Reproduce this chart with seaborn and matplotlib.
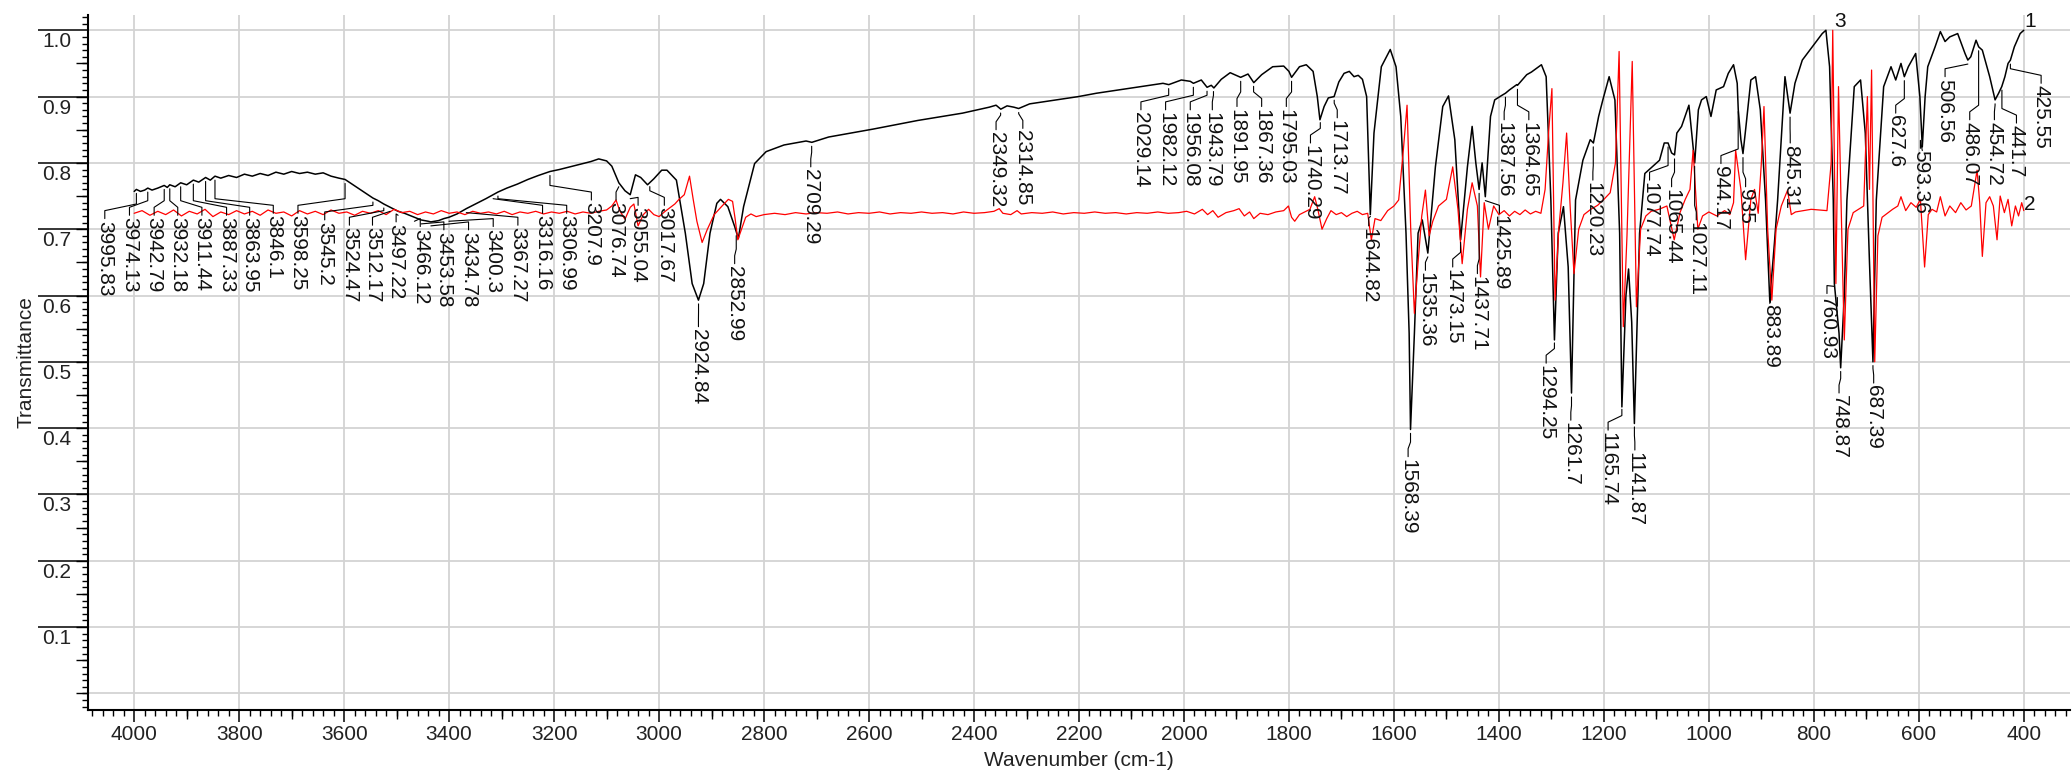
import numpy as np
import pandas as pd
import matplotlib
matplotlib.use("Agg")
import matplotlib.pyplot as plt
import matplotlib.transforms as mtransforms
from matplotlib.ticker import MultipleLocator
import seaborn as sns

# ----------------------------------------
# Spectrum 1 (black)
# ----------------------------------------
black_wn = [4000, 3995.8, 3988, 3980, 3974.1, 3966, 3955, 3942.8, 3937, 3932.2, 3922, 3911.4, 3900,
            3887.3, 3877, 3863.9, 3855, 3846.1, 3835, 3820, 3805, 3790, 3775, 3760, 3745, 3730, 3715,
            3700, 3685, 3670, 3655, 3640, 3625, 3610, 3598.2, 3585, 3570, 3555, 3545.2, 3535, 3524.5,
            3512.2, 3497.2, 3485, 3466.1, 3453.6, 3440, 3434.8, 3420, 3410, 3400.3, 3385, 3367.3, 3350,
            3330, 3316.2, 3307, 3290, 3270, 3250, 3230, 3207.9, 3190, 3170, 3150, 3130, 3115, 3100, 3090,
            3076.7, 3065, 3055, 3045, 3035, 3022, 3010, 2995, 2985, 2967, 2950, 2937, 2925, 2915, 2903,
            2890, 2883, 2869, 2856, 2849, 2839, 2818, 2796, 2762, 2720, 2709, 2677, 2592, 2507, 2422,
            2371, 2358, 2349, 2337, 2324, 2315, 2294, 2252, 2201, 2167, 2082, 2040, 2029, 2005, 1988,
            1982, 1967, 1956, 1948, 1943, 1929, 1912, 1892, 1878, 1867, 1852, 1831, 1810, 1800, 1795,
            1780, 1767, 1754, 1746, 1741, 1733, 1725, 1714, 1705, 1695, 1685, 1676, 1668, 1660, 1652,
            1645, 1638, 1624, 1607, 1596, 1587, 1577, 1571, 1568.4, 1561, 1554, 1546, 1535.4, 1521,
            1507, 1496, 1484, 1473, 1460, 1451, 1444, 1437.7, 1432, 1425.9, 1416, 1408, 1394, 1387.6,
            1380, 1366, 1364.6, 1347, 1338, 1319, 1310, 1301, 1294.2, 1287, 1277, 1268, 1261.7, 1254,
            1240, 1226, 1220, 1210, 1202, 1190, 1179, 1170, 1165.7, 1158, 1153, 1147, 1141.9, 1132,
            1122, 1108, 1094, 1085, 1077.7, 1071, 1065.4, 1061, 1052, 1038, 1027, 1020, 1014, 1005,
            996, 986, 972, 963, 953, 946, 944, 939, 935, 930, 920, 911, 902, 892, 884, 875, 869, 855,
            845.3, 836, 822, 803, 784, 777, 770, 763, 760.9, 752, 748.9, 742, 737, 723, 711, 702, 694,
            687.4, 681, 667, 653, 644, 634, 627.6, 620, 606, 598, 593.4, 588, 583, 569, 559, 550, 541,
            526, 512, 506.6, 501, 491, 486, 479, 465, 454.7, 448, 442, 436, 430, 425.5, 418, 407, 400]
black_tr = [.757, .760, .757, .759, .762, .759, .762, .766, .763, .767, .764, .770, .767,
            .774, .771, .778, .774, .780, .777, .781, .778, .783, .780, .784, .781, .786, .783,
            .787, .784, .786, .783, .785, .780, .777, .775, .768, .760, .752, .747, .743, .738,
            .733, .727, .724, .718, .714, .712, .711, .713, .716, .718, .723, .731, .738,
            .746, .752, .756, .762, .768, .775, .781, .787, .790, .794, .798, .802, .806, .803, .795,
            .770, .758, .752, .782, .778, .767, .776, .789, .789, .774, .694, .618, .593, .618, .694,
            .739, .745, .734, .704, .686, .734, .799, .817, .827, .833, .831, .839, .851, .864, .875,
            .884, .887, .881, .886, .884, .882, .889, .894, .900, .905, .915, .920, .918, .925, .923,
            .920, .925, .914, .917, .913, .926, .936, .929, .934, .921, .933, .945, .946, .938, .929,
            .945, .948, .938, .900, .865, .885, .898, .900, .922, .935, .938, .930, .932, .926, .900,
            .722, .845, .945, .971, .945, .870, .694, .543, .398, .543, .694, .714, .664, .794,
            .885, .901, .835, .684, .794, .855, .800, .760, .800, .749, .870, .895, .902, .905,
            .910, .918, .917, .933, .937, .948, .930, .744, .533, .694, .734, .643, .453, .744,
            .804, .835, .830, .870, .895, .930, .895, .694, .432, .600, .640, .560, .407, .694,
            .784, .794, .804, .830, .830, .815, .812, .845, .855, .887, .800, .880, .895, .900,
            .870, .910, .915, .935, .948, .920, .880, .835, .814, .850, .925, .930, .880, .744, .593, .680, .744, .930,
            .875, .920, .955, .975, .995, 1.000, .945, .744, .618, .543, .491, .600, .744, .915, .925, .845, .650,
            .500, .744, .915, .945, .925, .950, .930, .945, .965, .900, .824, .900, .945, .975, .998, .983, .990,
            .995, .965, .955, .960, .985, .975, .970, .930, .895, .905, .915, .930, .950, .955, .975, .995, 1.000]

# ----------------------------------------
# Spectrum 2 (red)
# ----------------------------------------
red_wn = [4000, 3985, 3970, 3955, 3940, 3925, 3910, 3895, 3880, 3865, 3850, 3835, 3820, 3805, 3790,
          3775, 3760, 3745, 3730, 3715, 3700, 3685, 3670, 3655, 3640, 3625, 3610, 3595, 3580, 3565,
          3550, 3535, 3520, 3505, 3490, 3475, 3460, 3445, 3430, 3415, 3400, 3385, 3370, 3355, 3340,
          3325, 3310, 3295, 3280, 3265, 3250, 3235, 3220, 3205, 3190, 3175, 3160, 3145, 3130, 3115,
          3100, 3090, 3082, 3075, 3065, 3055, 3048, 3040, 3030, 3020, 3010, 3000, 2990, 2980, 2970,
          2962, 2952, 2942, 2935, 2928, 2918, 2908, 2895, 2880, 2868, 2860, 2855, 2850, 2843, 2835,
          2825, 2815, 2800, 2780, 2760, 2740, 2720, 2700, 2680, 2660, 2640, 2620, 2600, 2580, 2560,
          2540, 2520, 2500, 2480, 2460, 2440, 2420, 2400, 2380, 2362, 2352, 2345, 2330, 2318, 2310,
          2290, 2270, 2250, 2230, 2210, 2190, 2170, 2150, 2130, 2110, 2090, 2070, 2050, 2030, 2010,
          1995, 1980, 1965, 1955, 1945, 1935, 1920, 1905, 1895, 1885, 1875, 1867, 1855, 1840, 1825,
          1810, 1801, 1795, 1789, 1780, 1770, 1760, 1751, 1745, 1737, 1728, 1720, 1710, 1700, 1690,
          1680, 1670, 1660, 1650, 1643, 1636, 1625, 1612, 1600, 1591, 1582, 1575, 1568, 1561, 1554,
          1547, 1540, 1533, 1526, 1515, 1500, 1488, 1478, 1470, 1460, 1451, 1441, 1435, 1428, 1420,
          1410, 1400, 1390, 1380, 1370, 1360, 1350, 1340, 1330, 1320, 1312, 1305, 1299, 1293, 1286,
          1278, 1271, 1264, 1257, 1248, 1238, 1225, 1212, 1200, 1188, 1178, 1171, 1163, 1156, 1150,
          1146, 1138, 1130, 1120, 1110, 1095, 1080, 1066, 1055, 1045, 1036, 1030, 1021, 1012, 1000,
          985, 970, 960, 953, 949, 939, 930, 920, 913, 906, 900, 895, 888, 880, 872, 862, 850, 843,
          835, 820, 805, 790, 775, 767, 764, 758, 753, 747, 742, 735, 725, 715, 705, 698, 694, 690,
          684, 678, 670, 660, 650, 640, 634, 625, 615, 605, 597, 589, 582, 575, 566, 559, 550, 541,
          530, 520, 510, 500, 489, 484, 479, 472, 465, 458, 451, 445, 437, 430, 423, 416, 410, 404, 400]
red_tr = [.724, .728, .721, .727, .722, .729, .720, .727, .723, .730, .719, .726, .722, .728, .723,
          .727, .721, .729, .724, .726, .720, .728, .723, .727, .722, .729, .724, .726, .721, .727,
          .724, .728, .722, .730, .725, .727, .722, .726, .723, .728, .724, .726, .722, .727, .724,
          .726, .723, .727, .722, .726, .724, .727, .723, .726, .724, .727, .723, .726, .724, .727,
          .729, .735, .744, .728, .715, .733, .738, .705, .722, .730, .722, .719, .726, .732, .738,
          .745, .752, .780, .745, .712, .680, .700, .722, .735, .745, .742, .715, .684, .700, .718,
          .723, .719, .722, .724, .722, .725, .723, .725, .724, .726, .723, .725, .724, .726, .723,
          .725, .724, .726, .724, .725, .723, .726, .724, .725, .727, .731, .724, .722, .728, .723,
          .725, .724, .726, .723, .725, .724, .726, .724, .725, .723, .725, .724, .726, .724, .725,
          .727, .723, .730, .722, .728, .718, .725, .728, .731, .720, .726, .716, .724, .722, .726,
          .728, .735, .718, .712, .722, .726, .730, .749, .730, .700, .716, .728, .722, .725, .719,
          .724, .727, .722, .724, .684, .716, .713, .728, .735, .744, .820, .887, .700, .573, .650,
          .720, .759, .690, .712, .735, .745, .794, .730, .648, .730, .770, .735, .628, .740, .700,
          .735, .722, .728, .720, .727, .722, .729, .723, .727, .724, .760, .850, .912, .593, .700,
          .770, .845, .730, .633, .700, .722, .730, .736, .745, .755, .800, .968, .553, .690, .850,
          .953, .583, .700, .720, .727, .730, .735, .684, .725, .745, .760, .819, .700, .720, .726,
          .720, .728, .722, .740, .819, .760, .654, .745, .760, .724, .800, .885, .700, .593, .700, .735, .759, .722,
          .726, .728, .730, .729, .728, .800, 1.000, .618, .915, .700, .533, .700, .725, .730, .735, .900, .760, .940,
          .500, .690, .718, .724, .730, .735, .749, .728, .740, .733, .745, .643, .722, .730, .726, .749, .720, .735,
          .725, .740, .729, .735, .789, .740, .659, .740, .749, .735, .684, .750, .725, .745, .705, .735, .720, .740, .728]

# ----------------------------------------
# Peak labels: text, label column (cm-1), top of the label (transmittance)
# ----------------------------------------
peak_text = ["3995.83", "3974.13", "3942.79", "3932.18", "3911.44", "3887.33", "3863.95", "3846.1",
             "3598.25", "3545.2", "3524.47", "3512.17", "3497.22", "3466.12", "3453.58", "3434.78",
             "3400.3", "3367.27", "3316.16", "3306.99", "3207.9", "3076.74", "3055.04", "3017.67",
             "2924.84", "2852.99", "2709.29", "2349.32", "2314.85", "2029.14", "1982.12", "1956.08",
             "1943.79", "1891.95", "1867.36", "1795.03", "1740.29", "1713.77", "1644.82", "1568.39",
             "1535.36", "1473.15", "1437.71", "1425.89", "1387.56", "1364.65", "1294.25", "1261.7",
             "1220.23", "1165.74", "1141.87", "1077.74", "1065.44", "1027.11", "944.17", "935",
             "883.89", "845.31", "760.93", "748.87", "687.39", "627.6", "593.36", "506.56", "486.07",
             "454.72", "441.7", "425.55"]
label_x = [4056, 4009, 3962, 3917, 3871, 3824, 3780, 3735,
           3688, 3637, 3590, 3546, 3501, 3455, 3410, 3363,
           3316, 3269, 3222, 3176, 3129, 3082, 3040, 2990,
           2925, 2856, 2711, 2358, 2307, 2082, 2035, 1988,
           1946, 1899, 1852, 1805, 1759, 1708, 1648, 1573,
           1540, 1488, 1441, 1399, 1390, 1343, 1310, 1263,
           1221, 1192, 1141, 1113, 1071, 1024, 977, 930,
           883, 845, 775, 752, 686, 644, 597, 550, 503,
           456, 414, 367]
label_top = [.716, .721, .721, .721, .721, .721, .721, .724,
             .724, .714, .706, .706, .711, .704, .699, .699,
             .704, .706, .724, .724, .744, .744, .736, .736,
             .553, .648, .794, .850, .852, .880, .880, .880,
             .880, .885, .885, .885, .830, .868, .705, .357,
             .638, .643, .633, .724, .865, .865, .498, .412,
             .774, .397, .367, .774, .764, .714, .799, .764,
             .590, .830, .603, .453, .468, .875, .822, .930, .865,
             .865, .860, .920]

curve_names = ["1", "2", "3"]
curve_name_x = [388, 388, 751]
curve_name_y = [1.013, .738, 1.013]

# ----------------------------------------
# Figure
# ----------------------------------------
sns.set_theme(style="white")
plt.rcParams['font.family'] = ['Liberation Sans', 'DejaVu Sans']

fig = plt.figure(figsize=(20.72, 7.73), dpi=100)
ax = fig.add_axes([0.04247, 0.0815, 0.95656, 0.89909])

df1 = pd.DataFrame({"wn": black_wn, "tr": black_tr})
df2 = pd.DataFrame({"wn": red_wn, "tr": red_tr})
sns.lineplot(data=df1, x="wn", y="tr", sort=False, estimator=None, color="black", lw=1.1, ax=ax, zorder=3)
sns.lineplot(data=df2, x="wn", y="tr", sort=False, estimator=None, color="red", lw=0.9, ax=ax, zorder=4)

# leaders + rotated labels
wn_up = np.array(black_wn)[::-1]
tr_up = np.array(black_tr)[::-1]
for txt, lx, ly in zip(peak_text, label_x, label_top):
    w = float(txt)
    yc = np.interp(w, wn_up, tr_up)
    yb2 = ly + 0.012
    y0 = yc - 0.006
    yb1 = min(yb2 + 0.01, y0)
    ax.plot([w, w, lx, lx], [y0, yb1, yb2, ly], color="black", lw=0.8, zorder=5)
    ax.text(lx, ly - 0.003, txt, rotation=-90, rotation_mode="anchor", ha="left", va="center",
            fontsize=15, color="#111111", zorder=6)

for name, nx, ny in zip(curve_names, curve_name_x, curve_name_y):
    ax.text(nx, ny, name, ha="center", va="center", fontsize=15, color="#111111")

ax.set_xlim(4088, 312)
ax.set_ylim(-0.025, 1.023)

# x ticks
xt = np.arange(400, 4001, 200)
ax.set_xticks(xt)
ax.set_xticklabels([str(v) for v in xt])
ax.xaxis.set_minor_locator(MultipleLocator(20))
ax.tick_params(axis="x", which="major", length=8.6, width=1.1, direction="out", labelsize=15, pad=2,
               bottom=True, color="black", labelcolor="#222222")
ax.tick_params(axis="x", which="minor", length=4.3, width=1.0, direction="out", bottom=True, color="black")
secx = ax.secondary_xaxis(0)
secx.set_xticks(np.arange(500, 4000, 200))
secx.tick_params(length=6.5, width=1.0, labelbottom=False, color="black")
secx.spines["bottom"].set_visible(False)

# y ticks: long major ticks, labels tucked under them
yt = np.round(np.arange(0.1, 1.01, 0.1), 1)
ax.set_yticks(yt)
ax.set_yticklabels(["%.1f" % v for v in yt])
ax.yaxis.set_minor_locator(MultipleLocator(0.01))
ax.tick_params(axis="y", which="major", length=36, width=1.1, direction="out", labelsize=15, pad=-23.8,
               left=True, color="black", labelcolor="#222222")
ax.tick_params(axis="y", which="minor", length=4.3, width=1.0, direction="out", left=True, color="black")
offset = mtransforms.ScaledTranslation(0, -0.02, fig.dpi_scale_trans)
for lab in ax.get_yticklabels():
    lab.set_va("top")
    lab.set_transform(lab.get_transform() + offset)
secy = ax.secondary_yaxis(0)
secy.set_yticks(np.round(np.arange(0.0, 1.0, 0.1), 2).tolist() + np.round(np.arange(0.05, 1.0, 0.1), 2).tolist())
secy.tick_params(length=8.6, width=1.0, labelleft=False, color="black")
secy.spines["left"].set_visible(False)

# grid
ax.grid(True, which="major", color="#d3d3d3", lw=1.3)
ax.axhline(0.0, color="#d3d3d3", lw=1.3, zorder=0)
ax.set_axisbelow(True)

for s in ["top", "right"]:
    ax.spines[s].set_visible(False)
for s in ["left", "bottom"]:
    ax.spines[s].set_color("black")
    ax.spines[s].set_linewidth(1.5)

ax.set_xlabel("Wavenumber (cm-1)", fontsize=15, color="#222222")
ax.set_ylabel("Transmittance", fontsize=15, color="#222222")
ax.xaxis.set_label_coords(0.5, -0.059)
ax.yaxis.set_label_coords(-0.0267, 0.5)

fig.savefig("out.png", dpi=100)
